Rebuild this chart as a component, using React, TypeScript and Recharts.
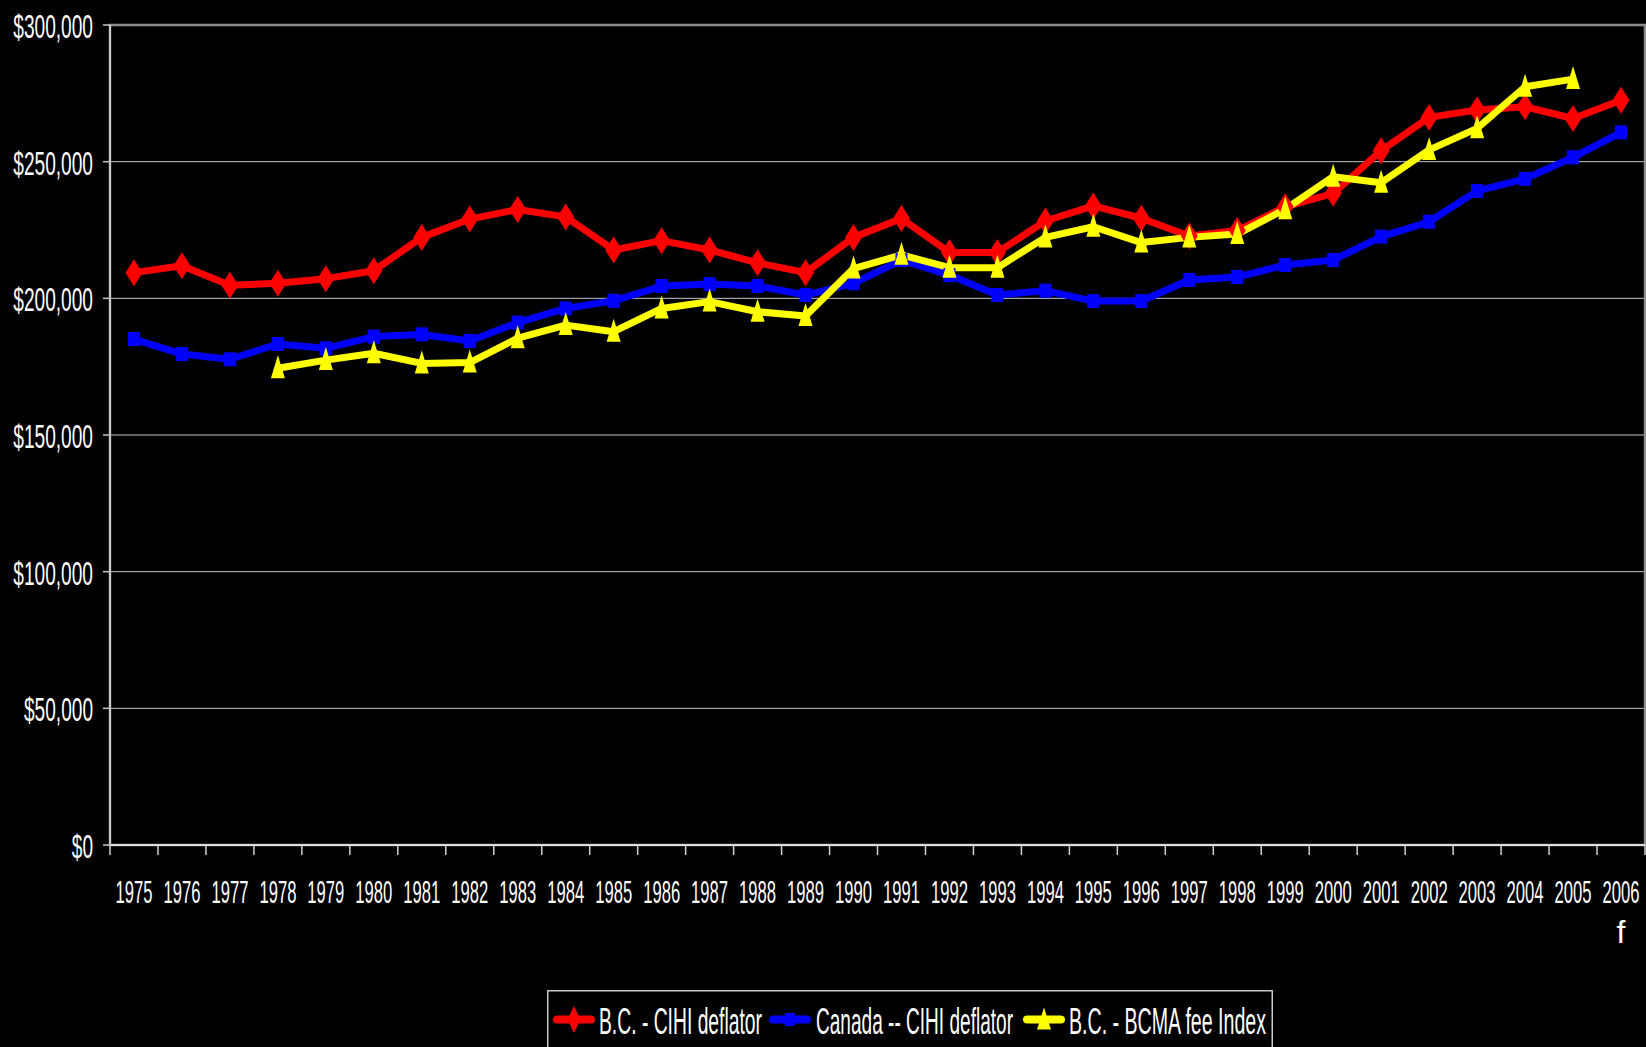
import React from 'react';
import { LineChart, Line, XAxis, YAxis, CartesianGrid, Legend, ReferenceArea } from 'recharts';

// ---------- data ----------
const years = [
  '1975', '1976', '1977', '1978', '1979', '1980', '1981', '1982', '1983', '1984', '1985',
  '1986', '1987', '1988', '1989', '1990', '1991', '1992', '1993', '1994', '1995', '1996',
  '1997', '1998', '1999', '2000', '2001', '2002', '2003', '2004', '2005', '2006',
];
const yearNotes = ['', '', '', '', '', '', '', '', '', '', '', '', '', '', '', '', '', '', '', '', '', '', '', '', '', '', '', '', '', '', '', 'f'];

const bcCihi = [
  209400, 211900, 204800, 205500, 207200, 210100, 222300, 229000, 232500, 229800, 217700,
  221100, 217700, 213000, 209400, 222300, 229200, 216800, 216800, 228300, 233800, 229300,
  222800, 224800, 233500, 238400, 254000, 266200, 268900, 270100, 265800, 272500,
];
const canadaCihi = [
  185100, 179600, 177700, 183300, 181700, 186000, 186800, 184400, 191100, 196300, 199100,
  204500, 205200, 204500, 201200, 205500, 214000, 208500, 201200, 202800, 199000, 199000,
  206700, 207800, 212200, 214000, 222600, 228000, 239300, 243700, 251600, 260700,
];
const bcBcma: (number | null)[] = [
  null, null, null, 174400, 177400, 179900, 176200, 176500, 185400, 190200, 187800,
  196300, 198800, 195100, 193500, 210900, 215900, 211200, 211200, 222300, 226200, 220400,
  222300, 223500, 232600, 244500, 242300, 254300, 262200, 277400, 280200, null,
];
const yTicks = [0, 50000, 100000, 150000, 200000, 250000, 300000];
const seriesNames = ['B.C. - CIHI deflator', 'Canada -- CIHI deflator', 'B.C. - BCMA fee Index'];
const seriesKeys = ['bc', 'canada', 'bcma'];
const seriesColors = ['#ff0000', '#0000ff', '#ffff00'];

const data = years.map((y, i) => ({
  year: y,
  bc: bcCihi[i],
  canada: canadaCihi[i],
  bcma: bcBcma[i],
}));

// ---------- layout ----------
const W = 1646;
const H = 1047;
const M_TOP = 25;
const M_RIGHT = 1;
const Y_AXIS_W = 110;
const X_AXIS_H = 202;
const PLOT_W = W - Y_AXIS_W - M_RIGHT;
const AXIS_Y = H - X_AXIS_H;
const BAND = PLOT_W / years.length;
const FONT = '"Liberation Sans Narrow", "Arial Narrow", "Liberation Sans", Arial, sans-serif';

const fmtMoney = (v: number) => '$' + v.toLocaleString('en-US');
const moneyWidth = (s: string) => {
  let w = 0;
  for (const c of s) w += c === '$' ? 10.5 : c === ',' ? 5 : 10.7;
  return w;
};

// ---------- markers ----------
const Diamond = ({ cx, cy, w, h, fill }: any) => (
  <polygon points={`${cx},${cy - h / 2} ${cx + w / 2},${cy} ${cx},${cy + h / 2} ${cx - w / 2},${cy}`} fill={fill} />
);
const Square = ({ cx, cy, w, h, fill }: any) => (
  <rect x={cx - w / 2} y={cy - h / 2} width={w} height={h} fill={fill} />
);
const Triangle = ({ cx, cy, w, up, down, fill }: any) => (
  <polygon points={`${cx},${cy - up} ${cx + w / 2},${cy + down} ${cx - w / 2},${cy + down}`} fill={fill} />
);

const makeDot = (kind: number) => (props: any) => {
  const { cx, cy, index, value } = props;
  const key = `dot-${kind}-${index}`;
  if (value == null || cx == null || cy == null || Number.isNaN(cy)) return <g key={key} />;
  if (kind === 0) return <g key={key}><Diamond cx={cx} cy={cy} w={17} h={27} fill={seriesColors[0]} /></g>;
  if (kind === 1) return <g key={key}><Square cx={cx} cy={cy} w={12} h={14} fill={seriesColors[1]} /></g>;
  return <g key={key}><Triangle cx={cx} cy={cy} w={14} up={13} down={10} fill={seriesColors[2]} /></g>;
};

// ---------- ticks ----------
const YTick = (props: any) => {
  const { x, y, payload } = props;
  const s = fmtMoney(payload.value);
  return (
    <text x={x} y={y} dy={13} textAnchor="end" fill="#ffffff" fontSize={33} fontFamily={FONT}
      textLength={moneyWidth(s)} lengthAdjust="spacingAndGlyphs">
      {s}
    </text>
  );
};

const XTick = (props: any) => {
  const { x, y, payload, index } = props;
  const half = BAND / 2;
  const note = yearNotes[index];
  return (
    <g>
      <line x1={x - half} x2={x - half} y1={AXIS_Y} y2={AXIS_Y + 10} stroke="#d0d0d0" strokeWidth={1.5} />
      {index === years.length - 1 && (
        <line x1={x + half} x2={x + half} y1={AXIS_Y} y2={AXIS_Y + 10} stroke="#d0d0d0" strokeWidth={1.5} />
      )}
      <text x={x} y={y} dy={12} textAnchor="middle" fill="#ffffff" fontSize={32} fontFamily={FONT}
        textLength={37} lengthAdjust="spacingAndGlyphs">
        {payload.value}
      </text>
      {note ? (
        <text x={x} y={y} dy={52} textAnchor="middle" fill="#ffffff" fontSize={32} fontFamily={FONT}>
          {note}
        </text>
      ) : null}
    </g>
  );
};

// ---------- legend ----------
const legendIconX = [6, 222, 476];
const legendTextX = [52, 269, 522];
const legendTextW = [163, 197, 197];

const LegendBox = () => (
  <svg width={730} height={57} style={{ display: 'block', overflow: 'visible' }}>
    <path d="M0.75 60 V0.75 H725.25 V60" fill="none" stroke="#c8c8c8" strokeWidth={1.5} />
    {seriesNames.map((name, i) => {
      const x0 = legendIconX[i];
      const cx = x0 + 21;
      const cy = 29.5;
      return (
        <g key={name}>
          <line x1={x0 + 4} x2={x0 + 38} y1={cy} y2={cy} stroke={seriesColors[i]} strokeWidth={8} strokeLinecap="round" />
          {i === 0 && <Diamond cx={cx} cy={cy} w={13} h={27} fill={seriesColors[0]} />}
          {i === 1 && <Square cx={cx} cy={cy} w={10} h={13} fill={seriesColors[1]} />}
          {i === 2 && <Triangle cx={cx} cy={cy} w={14} up={12} down={10} fill={seriesColors[2]} />}
          <text x={legendTextX[i]} y={44} fill="#ffffff" fontSize={37} fontFamily={FONT}
            textLength={legendTextW[i]} lengthAdjust="spacingAndGlyphs">
            {name}
          </text>
        </g>
      );
    })}
  </svg>
);

export default function App() {
  return (
    <div style={{ position: 'absolute', left: 0, top: 0, width: W, height: H, background: '#000', overflow: 'hidden' }}>
      <LineChart width={W} height={H} data={data} margin={{ top: M_TOP, right: M_RIGHT, bottom: 0, left: 0 }}>
        <CartesianGrid vertical={false} stroke="#c4c4c4" strokeWidth={1} />
        <ReferenceArea y1={0} y2={300000} fill="none" stroke="#8c8c8c" strokeWidth={2.5} />
        <XAxis
          dataKey="year"
          scale="band"
          height={X_AXIS_H}
          interval={0}
          tickLine={false}
          tickSize={10}
          tickMargin={36}
          axisLine={{ stroke: '#e0e0e0', strokeWidth: 2 }}
          tick={<XTick />}
        />
        <YAxis
          width={Y_AXIS_W}
          domain={[0, 300000]}
          ticks={yTicks}
          interval={0}
          tickSize={7}
          tickMargin={10}
          tickLine={{ stroke: '#c8c8c8', strokeWidth: 1.5 }}
          axisLine={{ stroke: '#c8c8c8', strokeWidth: 2 }}
          tick={<YTick />}
        />
        {seriesKeys.map((k, i) => (
          <Line
            key={k}
            dataKey={k}
            name={seriesNames[i]}
            type="linear"
            stroke={seriesColors[i]}
            strokeWidth={7}
            strokeLinejoin="round"
            dot={makeDot(i)}
            activeDot={false}
            isAnimationActive={false}
          />
        ))}
        <Legend
          layout="horizontal"
          verticalAlign="middle"
          align="center"
          content={() => <LegendBox />}
          wrapperStyle={{ left: 547, top: 990, width: 730, height: 57 }}
        />
      </LineChart>
    </div>
  );
}
